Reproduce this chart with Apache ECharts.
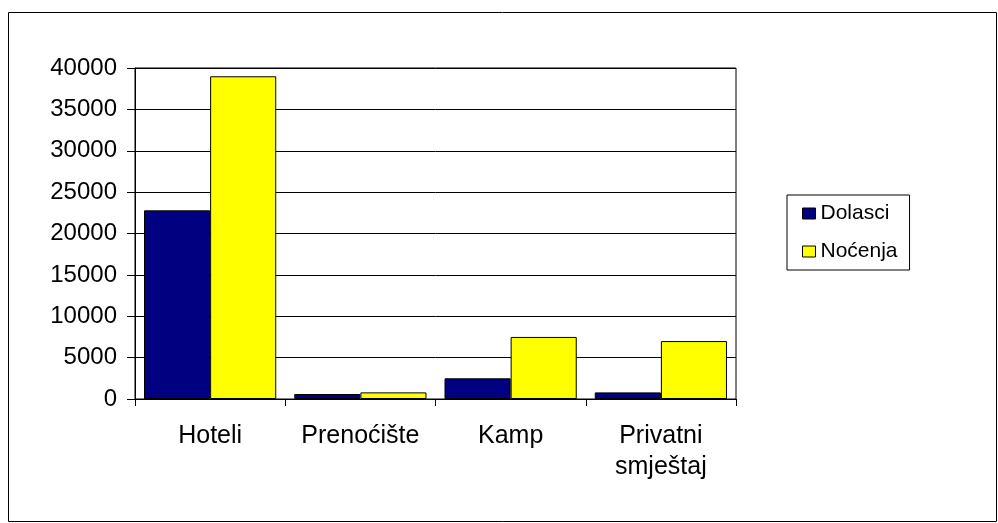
<!DOCTYPE html>
<html>
<head>
<meta charset="utf-8">
<script src="https://cdn.jsdelivr.net/npm/echarts@6/dist/echarts.min.js"></script>
<style>
  html, body { margin: 0; padding: 0; background: #fff; }
</style>
</head>
<body>
<div id="main" style="width: 998px;height:523px;"></div>
<script>
  // podaci
  var kategorije = ['Hoteli', 'Prenoćište', 'Kamp', 'Privatni\nsmještaj'];
  var dolasci = [22800, 600, 2500, 800];
  var nocenja = [39000, 800, 7500, 7000];

  var myChart = echarts.init(document.getElementById('main'));
  var font = 'Liberation Sans, Arial, sans-serif';

  var option = {
    animation: false,
    backgroundColor: '#fff',
    textStyle: { fontFamily: font },
    graphic: [{
      type: 'rect',
      shape: { x: 8.5, y: 12.5, width: 988, height: 509 },
      style: { fill: 'none', stroke: '#000', lineWidth: 1 },
      silent: true
    }],
    grid: {
      left: 135, top: 68, width: 601, height: 331,
      show: true, borderColor: '#000', borderWidth: 1
    },
    legend: {
      orient: 'vertical',
      left: 787, top: 195,
      padding: [8, 12, 8, 15],
      itemGap: 17,
      itemWidth: 13, itemHeight: 11,
      icon: 'rect',
      borderColor: '#000', borderWidth: 1,
      textStyle: { fontSize: 21, color: '#000', fontFamily: font },
      itemStyle: { borderColor: '#000', borderWidth: 1 },
      data: ['Dolasci', 'Noćenja']
    },
    xAxis: {
      type: 'category',
      data: kategorije,
      axisLine: { lineStyle: { color: '#000' } },
      axisTick: { show: true, length: 7, lineStyle: { color: '#000' } },
      axisLabel: { interval: 0, fontSize: 25, color: '#000', margin: 22, lineHeight: 31, fontFamily: font }
    },
    yAxis: {
      type: 'value',
      min: 0, max: 40000, interval: 5000,
      axisLine: { show: true, lineStyle: { color: '#000' } },
      axisTick: { show: true, inside: false, length: 8, lineStyle: { color: '#000' } },
      axisLabel: {
        fontSize: 24, color: '#000', margin: 18, fontFamily: font,
        formatter: function (v) { return String(v); }
      },
      splitLine: { lineStyle: { color: '#000', width: 1 } }
    },
    series: [{
      name: 'Dolasci',
      type: 'bar',
      data: dolasci,
      barGap: '0%',
      barCategoryGap: '12%',
      itemStyle: { color: '#000080', borderColor: '#000', borderWidth: 1 }
    }, {
      name: 'Noćenja',
      type: 'bar',
      data: nocenja,
      itemStyle: { color: '#ffff00', borderColor: '#000', borderWidth: 1 }
    }]
  };

  myChart.setOption(option);
</script>
</body>
</html>
